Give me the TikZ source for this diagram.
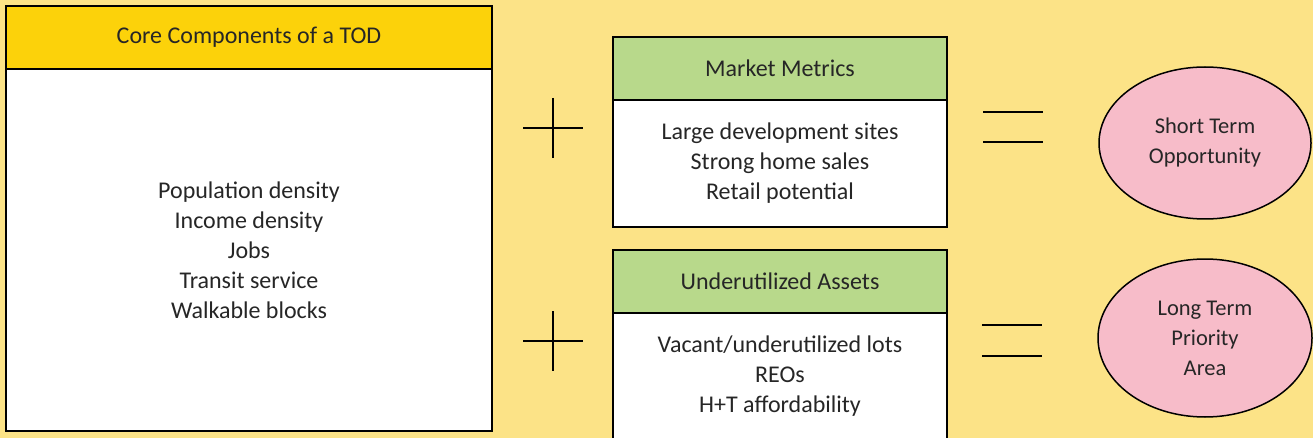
\documentclass[tikz,border=0pt]{standalone}
\usepackage{fontspec}
\setmainfont{Carlito}
\usetikzlibrary{shapes.geometric}
\definecolor{bgyellow}{HTML}{FCE387}
\definecolor{coregold}{HTML}{FCD20A}
\definecolor{metricgreen}{HTML}{B8D98B}
\definecolor{resultpink}{HTML}{F7BCC9}
\begin{document}
\begin{tikzpicture}[x=1pt,y=-1pt,
  every node/.style={text=black!85, align=center, inner sep=0pt},
  boxfont/.style={font=\fontsize{24}{30}\selectfont},
  headbox/.style={boxfont, draw=black, line width=2pt, minimum height=63pt},
  bodybox/.style={boxfont, draw=black, line width=2pt, fill=white},
  result/.style={ellipse, draw=black, line width=1.5pt, fill=resultpink,
    font=\fontsize{22.5}{30}\selectfont},
  sign/.style={line width=2pt}]
\fill [bgyellow] (0,0) rectangle (1313,438);
\useasboundingbox (0,0) rectangle (1313,438);
% core components
\node [bodybox, minimum width=486pt, minimum height=362pt] (corebody) at (249,250)
  {Population density\\Income density\\Jobs\\Transit service\\Walkable blocks};
\node [headbox, fill=coregold, minimum width=486pt] (corehead) at (249,37.5)
  {Core Components of a TOD};
% market metrics
\node [bodybox, minimum width=334pt, minimum height=127pt] (marketbody) at (780,163.5)
  {Large development sites\\Strong home sales\\Retail potential};
\node [headbox, fill=metricgreen, minimum width=334pt] (markethead) at (780,68.5)
  {Market Metrics};
% underutilized assets
\node [bodybox, minimum width=334pt, minimum height=127pt] (assetbody) at (780,376)
  {Vacant/underutilized lots\\REOs\\H+T affordability};
\node [headbox, fill=metricgreen, minimum width=334pt] (assethead) at (780,281.5)
  {Underutilized Assets};
% results
\node [result, minimum width=212pt, minimum height=152pt] (shortterm) at (1205,143)
  {Short Term\\Opportunity};
\node [result, minimum width=214pt, minimum height=158pt] (longterm) at (1205,338)
  {Long Term\\Priority\\Area};
% plus signs
\coordinate (plusA) at (553,128);
\coordinate (plusB) at (553,341);
\draw [sign] (plusA) +(-30,0) -- +(30,0) (plusA) +(0,-30) -- +(0,30);
\draw [sign] (plusB) +(-30,0) -- +(30,0) (plusB) +(0,-30) -- +(0,30);
% equals signs
\coordinate (equalA) at (1013,127);
\coordinate (equalB) at (1012,340.5);
\draw [sign] (equalA) +(-30,-15) -- +(30,-15) (equalA) +(-30,15) -- +(30,15);
\draw [sign] (equalB) +(-30,-15.5) -- +(30,-15.5) (equalB) +(-30,15.5) -- +(30,15.5);
\end{tikzpicture}
\end{document}
